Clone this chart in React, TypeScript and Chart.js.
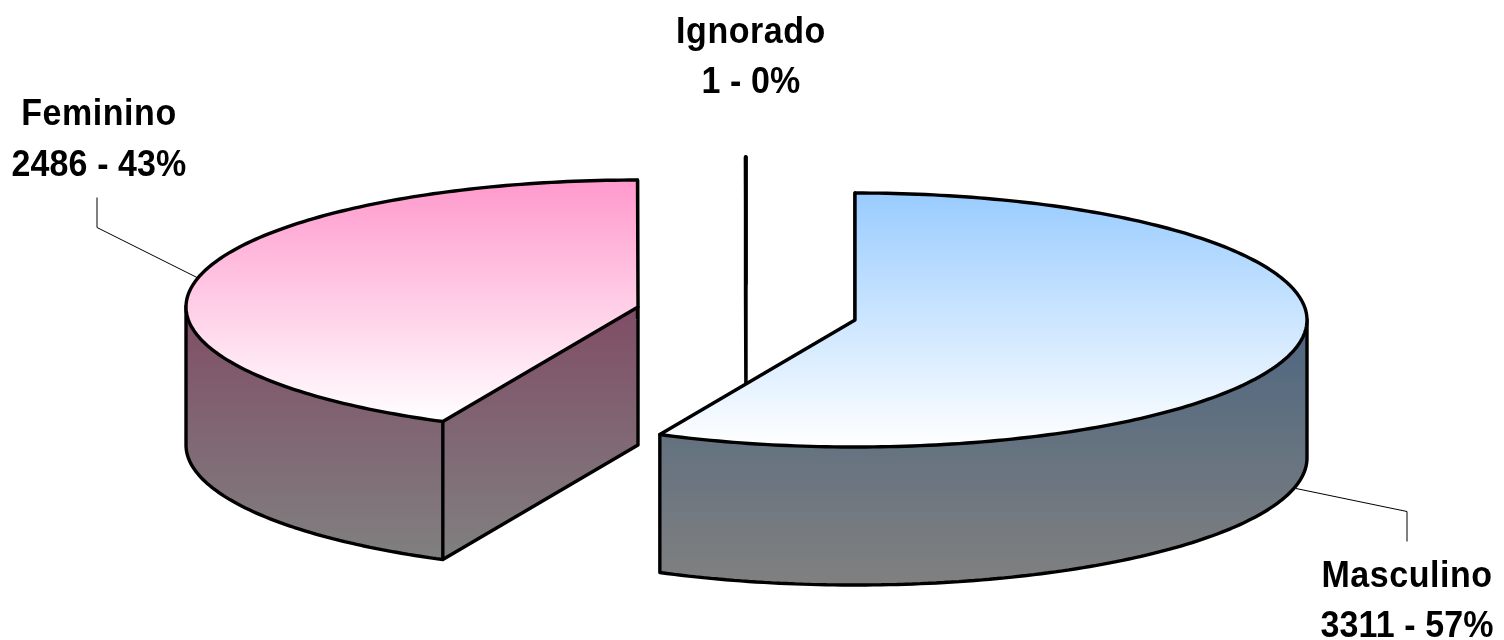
import React, { useEffect, useRef } from "react";
import { Chart, registerables } from "chart.js";

Chart.register(...registerables);

const categories = ["Masculino", "Feminino", "Ignorado"];
const values = [3311, 2486, 1];
const baseColors = ["#99CCFF", "#FF99CC", "#FFFFFF"];

// Styling of the 3D view
const RADIUS = 452;
const SQUASH = 127 / 452;
const DEPTH = 138;
const TEXT_STRETCH = 1.1;
const EXPLODE = [
  { x: 103, y: 0 },
  { x: -114, y: -13 },
  { x: -6, y: -36 },
];
const LABEL_LAYOUT = [
  { x: 1407, y: 587, gap: 50 },
  { x: 99, y: 125, gap: 51 },
  { x: 751, y: 43, gap: 50 },
];
const LEADERS = [
  [[1296, 488], [1407, 511], [1407, 541]],
  [[197, 277], [97, 227], [97, 197]],
];
const DRAW_ORDER = [2, 1, 0];

type Pt = { x: number; y: number };

function mixGray(hex: string) {
  const n = parseInt(hex.slice(1), 16);
  const c = [(n >> 16) & 255, (n >> 8) & 255, n & 255].map((v) => Math.round(v / 2));
  return `rgb(${c[0]},${c[1]},${c[2]})`;
}

function slicePolygon(cx: number, cy: number, r: number, a0: number, a1: number) {
  const pts: Pt[] = [{ x: cx, y: cy }];
  const steps = Math.max(2, Math.ceil(((a1 - a0) * 180) / Math.PI));
  for (let i = 0; i <= steps; i++) {
    const a = a0 + ((a1 - a0) * i) / steps;
    pts.push({ x: cx + r * Math.cos(a), y: cy + r * SQUASH * Math.sin(a) });
  }
  return pts;
}

const pie3d = {
  id: "pie3d",
  beforeDatasetsDraw(chart: any) {
    const ctx: CanvasRenderingContext2D = chart.ctx;
    const arcs = chart.getDatasetMeta(0).data;
    ctx.save();
    ctx.lineJoin = "round";
    ctx.lineCap = "round";
    for (const i of DRAW_ORDER) {
      const arc = arcs[i];
      const { x, y, startAngle, endAngle, outerRadius } = arc.getProps(
        ["x", "y", "startAngle", "endAngle", "outerRadius"],
        true
      );
      const cx = x + EXPLODE[i].x;
      const cy = y + EXPLODE[i].y;
      const poly = slicePolygon(cx, cy, outerRadius, startAngle, endAngle);
      const n = poly.length;
      const ys = poly.map((p) => p.y);
      const minY = Math.min(...ys);
      const maxY = Math.max(...ys);

      // side wall
      const side = ctx.createLinearGradient(0, cy, 0, maxY + DEPTH);
      side.addColorStop(0, mixGray(baseColors[i]));
      side.addColorStop(1, "#808080");
      ctx.beginPath();
      for (let k = 0; k < n; k++) {
        const a = poly[k];
        const b = poly[(k + 1) % n];
        const quad = [a, b, { x: b.x, y: b.y + DEPTH }, { x: a.x, y: a.y + DEPTH }];
        if (b.x < a.x) quad.reverse();
        ctx.moveTo(quad[0].x, quad[0].y);
        for (let q = 1; q < 4; q++) ctx.lineTo(quad[q].x, quad[q].y);
        ctx.closePath();
      }
      ctx.fillStyle = side;
      ctx.fill();

      // visible outline of the wall
      ctx.strokeStyle = "#000";
      ctx.lineWidth = 3.4;
      ctx.beginPath();
      for (let k = 0; k < n; k++) {
        const a = poly[k];
        const b = poly[(k + 1) % n];
        const prev = poly[(k + n - 1) % n];
        const facing = b.x < a.x;
        const prevFacing = a.x < prev.x;
        if (facing) {
          ctx.moveTo(a.x, a.y + DEPTH);
          ctx.lineTo(b.x, b.y + DEPTH);
        }
        if (facing !== prevFacing || k === 1 || k === n - 1) {
          ctx.moveTo(a.x, a.y);
          ctx.lineTo(a.x, a.y + DEPTH);
        }
      }
      ctx.stroke();

      // top face
      const top = ctx.createLinearGradient(0, minY, 0, maxY);
      top.addColorStop(0, baseColors[i]);
      top.addColorStop(1, "#FFFFFF");
      ctx.beginPath();
      poly.forEach((p, k) => (k ? ctx.lineTo(p.x, p.y) : ctx.moveTo(p.x, p.y)));
      ctx.closePath();
      ctx.fillStyle = top;
      ctx.fill();
      ctx.stroke();
    }
    ctx.restore();
    return false;
  },
  afterDraw(chart: any) {
    const ctx: CanvasRenderingContext2D = chart.ctx;
    const data: number[] = chart.data.datasets[0].data;
    const labels: string[] = chart.data.labels;
    const total = data.reduce((s, v) => s + v, 0);
    ctx.save();
    ctx.strokeStyle = "#000";
    ctx.lineWidth = 1;
    for (const line of LEADERS) {
      ctx.beginPath();
      line.forEach((p, k) => (k ? ctx.lineTo(p[0], p[1] + 0.5) : ctx.moveTo(p[0], p[1] + 0.5)));
      ctx.stroke();
    }
    ctx.fillStyle = "#000";
    ctx.font = 'bold 34px "Liberation Sans", Arial, sans-serif';
    ctx.textAlign = "center";
    ctx.textBaseline = "alphabetic";
    ctx.scale(1, TEXT_STRETCH);
    labels.forEach((name, i) => {
      const l = LABEL_LAYOUT[i];
      (ctx as any).letterSpacing = "0.55px";
      ctx.fillText(name, l.x, l.y / TEXT_STRETCH);
      (ctx as any).letterSpacing = "0.1px";
      ctx.fillText(
        `${data[i]} - ${Math.round((data[i] / total) * 100)}%`,
        l.x,
        (l.y + l.gap) / TEXT_STRETCH
      );
    });
    ctx.restore();
  },
};

export default function App() {
  const ref = useRef<HTMLCanvasElement | null>(null);
  useEffect(() => {
    const chart = new Chart(ref.current as HTMLCanvasElement, {
      type: "pie",
      data: {
        labels: categories,
        datasets: [{ data: values, backgroundColor: baseColors, borderWidth: 0, radius: RADIUS } as any],
      },
      options: {
        responsive: false,
        animation: false,
        radius: RADIUS,
        layout: { padding: 0 },
        plugins: { legend: { display: false }, tooltip: { enabled: false }, title: { display: false } },
      } as any,
      plugins: [pie3d as any],
    });
    return () => chart.destroy();
  }, []);
  return (
    <div style={{ position: "absolute", left: 0, top: 0, width: 1504, height: 640, background: "#fff" }}>
      <canvas ref={ref} width={1504} height={640} style={{ display: "block" }} />
    </div>
  );
}
